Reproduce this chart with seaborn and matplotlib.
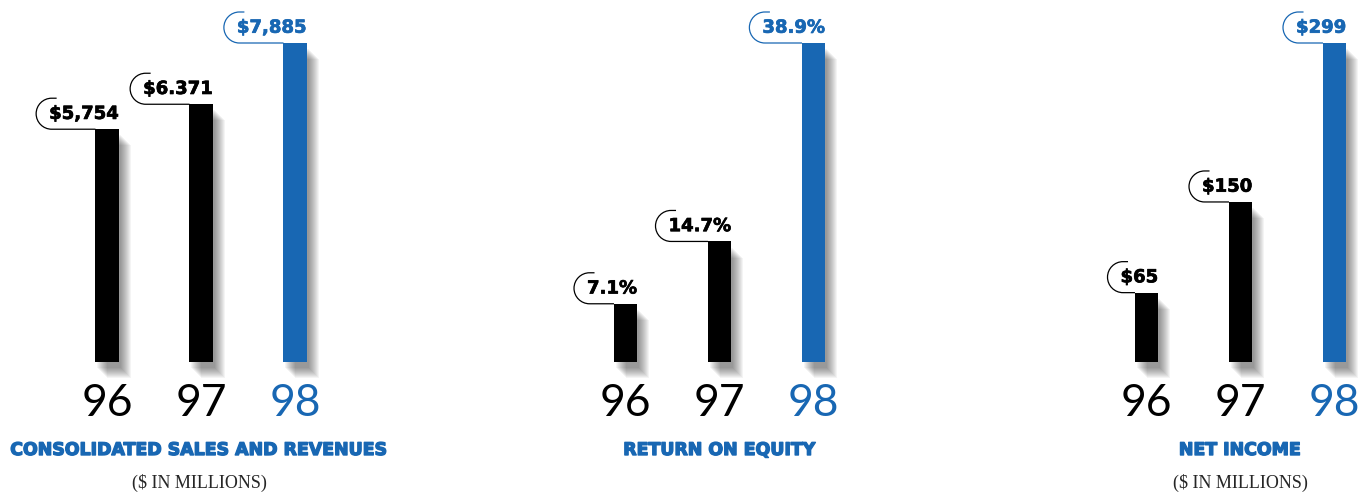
#!/usr/bin/env python3
"""Three-panel annual report bar chart: sales, return on equity, net income."""

import matplotlib

matplotlib.use("Agg")
import matplotlib.pyplot as plt
import matplotlib.patheffects as pe
from matplotlib.path import Path
from matplotlib.patches import PathPatch
from matplotlib.transforms import IdentityTransform
import pandas as pd
import seaborn as sns

# Data
years = ["96", "97", "98"]
sales = [5754, 6371, 7885]
sales_labels = ["$5,754", "$6.371", "$7,885"]
roe = [7.1, 14.7, 38.9]
roe_labels = ["7.1%", "14.7%", "38.9%"]
income = [65, 150, 299]
income_labels = ["$65", "$150", "$299"]
titles = ["CONSOLIDATED SALES AND REVENUES", "RETURN ON EQUITY", "NET INCOME"]
subtitles = ["($ IN MILLIONS)", "", "($ IN MILLIONS)"]

BLUE = "#1867b3"
year_colors = ["black", "black", BLUE]

W, H = 1369, 495
BAR_W = 0.245

sns.set_theme(style="white")
plt.rcParams["font.family"] = ["DejaVu Sans"]

fig = plt.figure(figsize=(W / 100, H / 100), dpi=100)
fig.patch.set_facecolor("white")

# axes left edges in pixels, each panel is 282 px wide
panel_lefts = [60, 578.5, 1099.5]
panel_centers = [199, 719.5, 1240]
panels = [
    (sales, sales_labels),
    (roe, roe_labels),
    (income, income_labels),
]

# soft drop shadow: several stacked translucent copies
shadow = [
    pe.SimplePatchShadow(offset=(d * 0.72, -d * 0.72 - 3), shadow_rgbFace="black", alpha=0.045)
    for d in range(2, 13)
]

annotations = []
for k, (values, labels) in enumerate(panels):
    ax = fig.add_axes([panel_lefts[k] / W, 133 / H, 282 / W, 319 / H])
    df = pd.DataFrame({"year": years, "value": values})
    sns.barplot(
        data=df, x="year", y="value", hue="year",
        palette=dict(zip(years, year_colors)), width=BAR_W,
        saturation=1, legend=False, ax=ax, linewidth=0,
    )
    ax.set_xlim(-0.5, 2.5)
    ax.set_ylim(0, max(values))
    ax.set_facecolor("none")
    for s in ax.spines.values():
        s.set_visible(False)
    ax.set_yticks([])
    ax.set_xlabel("")
    ax.set_ylabel("")
    ax.tick_params(axis="x", length=0, pad=15, labelsize=32)
    for lbl, c in zip(ax.get_xticklabels(), year_colors):
        lbl.set_color(c)
        lbl.set_family("Lato")
        lbl.set_fontweight("normal")

    for patch in ax.patches:
        patch.set_clip_on(False)
        patch.set_path_effects(shadow + [pe.Normal()])

    for i, (v, lab) in enumerate(zip(values, labels)):
        t = ax.annotate(
            lab, xy=(i + BAR_W / 2, v), xytext=(0, 11), textcoords="offset points",
            ha="right", va="center", fontsize=13, fontweight="bold",
            color=year_colors[i], annotation_clip=False,
            path_effects=[pe.withStroke(linewidth=0.5, foreground=year_colors[i])],
        )
        annotations.append((ax, i, v, t))

    fig.text(panel_centers[k] / W, 1 - 450 / H, titles[k], ha="center", va="center",
             color=BLUE, fontsize=12.5, fontweight="heavy",
             path_effects=[pe.withStroke(linewidth=1.0, foreground=BLUE)])
    if subtitles[k]:
        fig.text(panel_centers[k] / W, 1 - 483 / H, subtitles[k], ha="center",
                 va="center", family="Liberation Serif", fontsize=13)

# rounded callout lines under each value label
fig.canvas.draw()
renderer = fig.canvas.get_renderer()
r = 15.5
kap = 0.5523 * r
for ax, i, v, t in annotations:
    bb = t.get_window_extent(renderer)
    bx, by = ax.transData.transform((i - BAR_W / 2, v))
    lx = bb.x0 - 13
    cx = lx + r
    verts = [
        (bx, by), (cx, by),
        (cx - kap, by), (lx, by + r - kap), (lx, by + r),
        (lx, by + r + kap), (cx - kap, by + 2 * r), (cx, by + 2 * r),
        (cx + 5, by + 2 * r),
    ]
    codes = [Path.MOVETO, Path.LINETO,
             Path.CURVE4, Path.CURVE4, Path.CURVE4,
             Path.CURVE4, Path.CURVE4, Path.CURVE4,
             Path.LINETO]
    fig.add_artist(PathPatch(Path(verts, codes), fill=False, lw=0.9,
                             edgecolor=t.get_color(), transform=IdentityTransform()))

fig.savefig("out.png", dpi=100)
